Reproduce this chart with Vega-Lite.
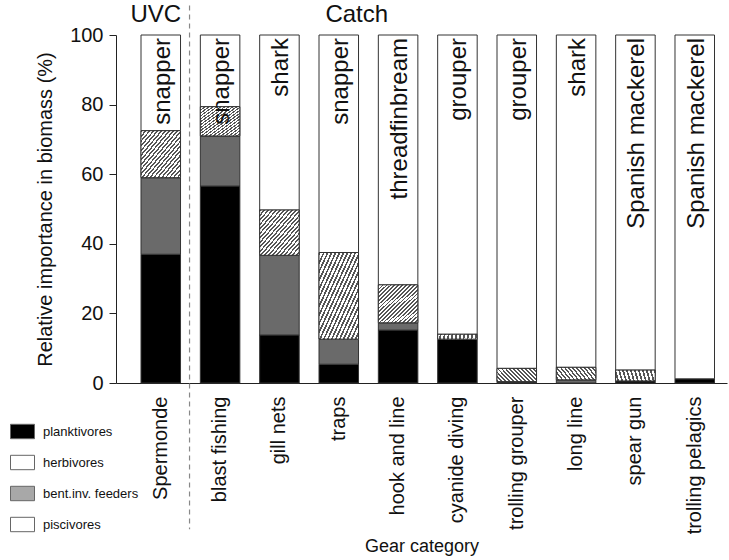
{
  "$schema": "https://vega.github.io/schema/vega-lite/v6.json",
  "width": 611,
  "height": 348,
  "autosize": {"type": "none"},
  "padding": {"left": 116, "top": 35, "right": 2, "bottom": 177},
  "background": "white",
  "config": {
    "view": {"stroke": null},
    "font": "Liberation Sans",
    "axis": {"labelFont": "Liberation Sans", "titleFont": "Liberation Sans", "labelColor": "#111", "titleColor": "#111"},
    "legend": {"labelFont": "Liberation Sans"},
    "text": {"font": "Liberation Sans"}
  },
  "resolve": {"scale": {"fill": "independent"}},
  "datasets": {
    "bars": [
      {"gear": "Spermonde", "group": "planktivores", "pct": 37, "ord": 1},
      {"gear": "Spermonde", "group": "herbivores", "pct": 22, "ord": 2},
      {"gear": "Spermonde", "group": "bent.inv. feeders", "pct": 13.5, "ord": 3},
      {"gear": "Spermonde", "group": "piscivores", "pct": 27.5, "ord": 4},
      {"gear": "blast fishing", "group": "planktivores", "pct": 56.6, "ord": 1},
      {"gear": "blast fishing", "group": "herbivores", "pct": 14.4, "ord": 2},
      {"gear": "blast fishing", "group": "bent.inv. feeders", "pct": 8.4, "ord": 3},
      {"gear": "blast fishing", "group": "piscivores", "pct": 20.6, "ord": 4},
      {"gear": "gill nets", "group": "planktivores", "pct": 13.8, "ord": 1},
      {"gear": "gill nets", "group": "herbivores", "pct": 22.9, "ord": 2},
      {"gear": "gill nets", "group": "bent.inv. feeders", "pct": 13.0, "ord": 3},
      {"gear": "gill nets", "group": "piscivores", "pct": 50.3, "ord": 4},
      {"gear": "traps", "group": "planktivores", "pct": 5.4, "ord": 1},
      {"gear": "traps", "group": "herbivores", "pct": 7.2, "ord": 2},
      {"gear": "traps", "group": "bent.inv. feeders", "pct": 24.9, "ord": 3},
      {"gear": "traps", "group": "piscivores", "pct": 62.5, "ord": 4},
      {"gear": "hook and line", "group": "planktivores", "pct": 15.2, "ord": 1},
      {"gear": "hook and line", "group": "herbivores", "pct": 2.1, "ord": 2},
      {"gear": "hook and line", "group": "bent.inv. feeders", "pct": 10.9, "ord": 3},
      {"gear": "hook and line", "group": "piscivores", "pct": 71.8, "ord": 4},
      {"gear": "cyanide diving", "group": "planktivores", "pct": 12.6, "ord": 1},
      {"gear": "cyanide diving", "group": "bent.inv. feeders", "pct": 1.4, "ord": 3},
      {"gear": "cyanide diving", "group": "piscivores", "pct": 86.0, "ord": 4},
      {"gear": "trolling grouper", "group": "planktivores", "pct": 0.2, "ord": 1},
      {"gear": "trolling grouper", "group": "herbivores", "pct": 0.2, "ord": 2},
      {"gear": "trolling grouper", "group": "bent.inv. feeders", "pct": 3.8, "ord": 3},
      {"gear": "trolling grouper", "group": "piscivores", "pct": 95.8, "ord": 4},
      {"gear": "long line", "group": "herbivores", "pct": 0.9, "ord": 2},
      {"gear": "long line", "group": "bent.inv. feeders", "pct": 3.6, "ord": 3},
      {"gear": "long line", "group": "piscivores", "pct": 95.5, "ord": 4},
      {"gear": "spear gun", "group": "planktivores", "pct": 0.6, "ord": 1},
      {"gear": "spear gun", "group": "bent.inv. feeders", "pct": 3.1, "ord": 3},
      {"gear": "spear gun", "group": "piscivores", "pct": 96.3, "ord": 4},
      {"gear": "trolling pelagics", "group": "planktivores", "pct": 1.2, "ord": 1},
      {"gear": "trolling pelagics", "group": "piscivores", "pct": 98.8, "ord": 4}
    ],
    "fish": [
      {"gear": "Spermonde", "fish": "snapper"},
      {"gear": "blast fishing", "fish": "snapper"},
      {"gear": "gill nets", "fish": "shark"},
      {"gear": "traps", "fish": "snapper"},
      {"gear": "hook and line", "fish": "threadfinbream"},
      {"gear": "cyanide diving", "fish": "grouper"},
      {"gear": "trolling grouper", "fish": "grouper"},
      {"gear": "long line", "fish": "shark"},
      {"gear": "spear gun", "fish": "Spanish mackerel"},
      {"gear": "trolling pelagics", "fish": "Spanish mackerel"}
    ],
    "groups": [
      {"group": "planktivores"},
      {"group": "herbivores"},
      {"group": "bent.inv. feeders"},
      {"group": "piscivores"}
    ]
  },
  "layer": [
    {
      "data": {"name": "bars"},
      "transform": [
        {"stack": "pct", "groupby": ["gear"], "sort": [{"field": "ord", "order": "ascending"}], "as": ["y0", "y1"]}
      ],
      "layer": [
        {
          "mark": {"type": "bar", "stroke": "#333", "strokeWidth": 1},
          "encoding": {
            "x": {
              "field": "gear", "type": "nominal",
              "scale": {
                "domain": ["Spermonde", "blast fishing", "gill nets", "traps", "hook and line", "cyanide diving", "trolling grouper", "long line", "spear gun", "trolling pelagics"],
                "paddingInner": 0.334, "paddingOuter": 0.316, "align": 0.667
              },
              "axis": {
                "title": "Gear category", "titleFontSize": 18, "titleFontWeight": "normal", "titlePadding": 4,
                "labelFontSize": 20, "labelAngle": 270, "labelAlign": "right", "labelBaseline": "middle",
                "labelPadding": 13, "ticks": false, "domainColor": "#222", "labelOverlap": false, "labelLimit": 300
              }
            },
            "y": {
              "field": "y1", "type": "quantitative",
              "scale": {"domain": [0, 100], "nice": false},
              "axis": {
                "title": "Relative importance in biomass (%)", "titleFontSize": 20, "titleFontWeight": "normal", "titlePadding": 14,
                "labelFontSize": 20, "values": [0, 20, 40, 60, 80, 100], "grid": false, "tickSize": 7,
                "tickColor": "#222", "domainColor": "#222", "labelPadding": 6
              }
            },
            "y2": {"field": "y0"},
            "fill": {
              "field": "group", "type": "nominal",
              "scale": {
                "domain": ["planktivores", "herbivores", "bent.inv. feeders", "piscivores"],
                "range": ["#000000", "#6a6a6a", "#b3b3b3", "#ffffff"]
              },
              "legend": null
            }
          }
        },
        {
          "transform": [{"filter": "datum.group === 'bent.inv. feeders'"}],
          "mark": {
            "type": "bar", "stroke": "#333", "strokeWidth": 1,
            "fill": {
              "gradient": "linear", "x1": 0, "y1": 0, "x2": 1, "y2": 1,
              "stops": [
                {"offset": 0, "color": "#555555"}, {"offset": 0.0225, "color": "#555555"}, {"offset": 0.0225, "color": "#ffffff"}, {"offset": 0.05, "color": "#ffffff"},
                {"offset": 0.05, "color": "#555555"}, {"offset": 0.0725, "color": "#555555"}, {"offset": 0.0725, "color": "#ffffff"}, {"offset": 0.1, "color": "#ffffff"},
                {"offset": 0.1, "color": "#555555"}, {"offset": 0.1225, "color": "#555555"}, {"offset": 0.1225, "color": "#ffffff"}, {"offset": 0.15, "color": "#ffffff"},
                {"offset": 0.15, "color": "#555555"}, {"offset": 0.1725, "color": "#555555"}, {"offset": 0.1725, "color": "#ffffff"}, {"offset": 0.2, "color": "#ffffff"},
                {"offset": 0.2, "color": "#555555"}, {"offset": 0.2225, "color": "#555555"}, {"offset": 0.2225, "color": "#ffffff"}, {"offset": 0.25, "color": "#ffffff"},
                {"offset": 0.25, "color": "#555555"}, {"offset": 0.2725, "color": "#555555"}, {"offset": 0.2725, "color": "#ffffff"}, {"offset": 0.3, "color": "#ffffff"},
                {"offset": 0.3, "color": "#555555"}, {"offset": 0.3225, "color": "#555555"}, {"offset": 0.3225, "color": "#ffffff"}, {"offset": 0.35, "color": "#ffffff"},
                {"offset": 0.35, "color": "#555555"}, {"offset": 0.3725, "color": "#555555"}, {"offset": 0.3725, "color": "#ffffff"}, {"offset": 0.4, "color": "#ffffff"},
                {"offset": 0.4, "color": "#555555"}, {"offset": 0.4225, "color": "#555555"}, {"offset": 0.4225, "color": "#ffffff"}, {"offset": 0.45, "color": "#ffffff"},
                {"offset": 0.45, "color": "#555555"}, {"offset": 0.4725, "color": "#555555"}, {"offset": 0.4725, "color": "#ffffff"}, {"offset": 0.5, "color": "#ffffff"},
                {"offset": 0.5, "color": "#555555"}, {"offset": 0.5225, "color": "#555555"}, {"offset": 0.5225, "color": "#ffffff"}, {"offset": 0.55, "color": "#ffffff"},
                {"offset": 0.55, "color": "#555555"}, {"offset": 0.5725, "color": "#555555"}, {"offset": 0.5725, "color": "#ffffff"}, {"offset": 0.6, "color": "#ffffff"},
                {"offset": 0.6, "color": "#555555"}, {"offset": 0.6225, "color": "#555555"}, {"offset": 0.6225, "color": "#ffffff"}, {"offset": 0.65, "color": "#ffffff"},
                {"offset": 0.65, "color": "#555555"}, {"offset": 0.6725, "color": "#555555"}, {"offset": 0.6725, "color": "#ffffff"}, {"offset": 0.7, "color": "#ffffff"},
                {"offset": 0.7, "color": "#555555"}, {"offset": 0.7225, "color": "#555555"}, {"offset": 0.7225, "color": "#ffffff"}, {"offset": 0.75, "color": "#ffffff"},
                {"offset": 0.75, "color": "#555555"}, {"offset": 0.7725, "color": "#555555"}, {"offset": 0.7725, "color": "#ffffff"}, {"offset": 0.8, "color": "#ffffff"},
                {"offset": 0.8, "color": "#555555"}, {"offset": 0.8225, "color": "#555555"}, {"offset": 0.8225, "color": "#ffffff"}, {"offset": 0.85, "color": "#ffffff"},
                {"offset": 0.85, "color": "#555555"}, {"offset": 0.8725, "color": "#555555"}, {"offset": 0.8725, "color": "#ffffff"}, {"offset": 0.9, "color": "#ffffff"},
                {"offset": 0.9, "color": "#555555"}, {"offset": 0.9225, "color": "#555555"}, {"offset": 0.9225, "color": "#ffffff"}, {"offset": 0.95, "color": "#ffffff"},
                {"offset": 0.95, "color": "#555555"}, {"offset": 0.9725, "color": "#555555"}, {"offset": 0.9725, "color": "#ffffff"}, {"offset": 1, "color": "#ffffff"}
              ]
            }
          },
          "encoding": {
            "x": {"field": "gear", "type": "nominal"},
            "y": {"field": "y1", "type": "quantitative"},
            "y2": {"field": "y0"}
          }
        }
      ]
    },
    {
      "data": {"name": "groups"},
      "mark": {"type": "point", "filled": true, "opacity": 0},
      "encoding": {
        "x": {"datum": "Spermonde", "type": "nominal"},
        "y": {"datum": 0, "type": "quantitative"},
        "fill": {
          "field": "group", "type": "nominal",
          "scale": {
            "domain": ["planktivores", "herbivores", "bent.inv. feeders", "piscivores"],
            "range": ["#000000", "#ffffff", "#a8a8a8", "#ffffff"]
          },
          "legend": {
            "orient": "none", "legendX": -106, "legendY": 384, "title": null,
            "symbolType": "M-1,-0.6H1V0.6H-1Z", "symbolSize": 576, "symbolOpacity": 1,
            "symbolStrokeColor": "#666", "symbolStrokeWidth": 1,
            "labelFontSize": 13, "labelOffset": 8, "rowPadding": 9, "padding": 0, "labelColor": "#111"
          }
        }
      }
    },
    {
      "data": {"name": "fish"},
      "mark": {"type": "text", "angle": 270, "align": "right", "baseline": "middle", "dx": -3, "dy": 2, "fontSize": 24, "color": "#111"},
      "encoding": {
        "x": {"field": "gear", "type": "nominal"},
        "y": {"datum": 100, "type": "quantitative"},
        "text": {"field": "fish"}
      }
    },
    {
      "data": {"values": [{"gear": "Spermonde", "label": "UVC"}]},
      "mark": {"type": "text", "align": "center", "baseline": "alphabetic", "dx": -5, "fontSize": 24, "color": "#111"},
      "encoding": {
        "x": {"field": "gear", "type": "nominal"},
        "y": {"datum": 103.7, "type": "quantitative"},
        "text": {"field": "label"}
      }
    },
    {
      "data": {"values": [{"gear": "traps", "label": "Catch"}]},
      "mark": {"type": "text", "align": "center", "baseline": "alphabetic", "dx": 18, "fontSize": 24, "color": "#111"},
      "encoding": {
        "x": {"field": "gear", "type": "nominal"},
        "y": {"datum": 103.7, "type": "quantitative"},
        "text": {"field": "label"}
      }
    },
    {
      "data": {"values": [{"gear": "Spermonde"}]},
      "mark": {"type": "rule", "color": "#888", "strokeWidth": 1.2, "strokeDash": [5, 4]},
      "encoding": {
        "x": {"field": "gear", "type": "nominal", "bandPosition": 1.228},
        "y": {"datum": 108.5, "type": "quantitative"},
        "y2": {"datum": -42}
      }
    }
  ]
}
